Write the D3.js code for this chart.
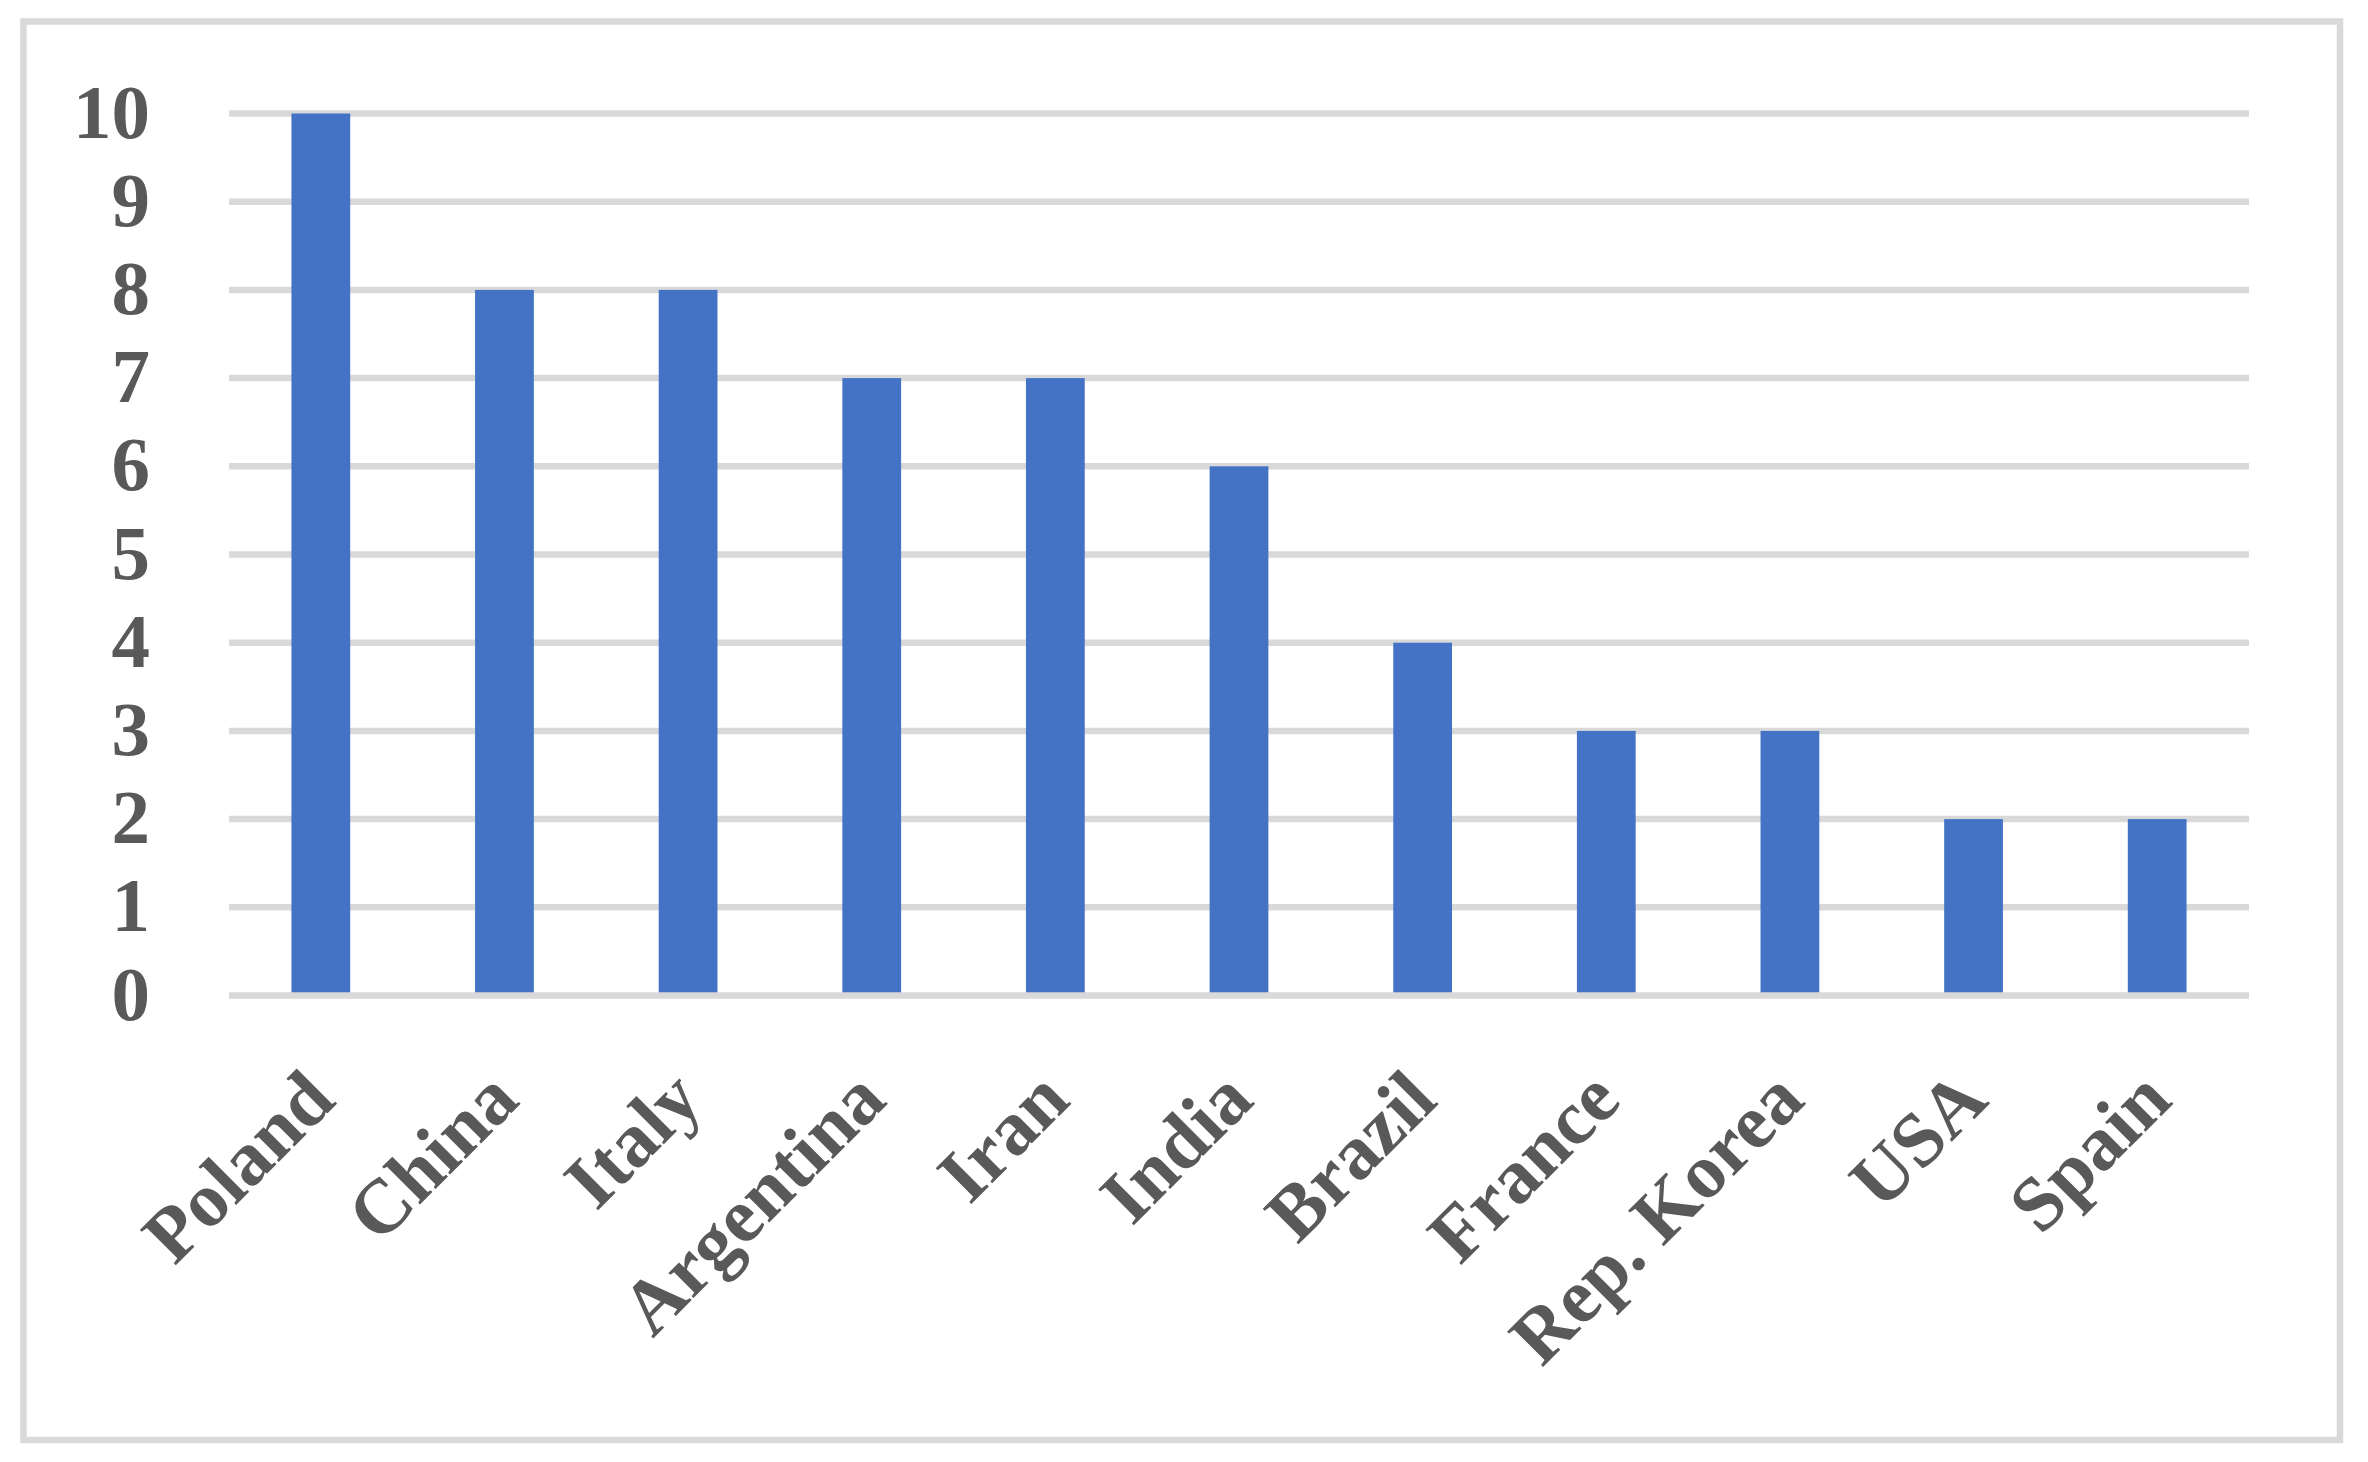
<!DOCTYPE html>
<html>
<head>
<meta charset="utf-8">
<script src="https://cdn.jsdelivr.net/npm/d3@7"></script>
<style>
  html, body { margin: 0; padding: 0; background: #fff; }
  svg { display: block; }
</style>
</head>
<body>
<div class="chart"></div>
<script>
var countries = ['Poland', 'China', 'Italy', 'Argentina', 'Iran', 'India', 'Brazil', 'France', 'Rep. Korea', 'USA', 'Spain'];
var counts = [10, 8, 8, 7, 7, 6, 4, 3, 3, 2, 2];
var yTicks = [0, 1, 2, 3, 4, 5, 6, 7, 8, 9, 10];

drawBarChart('.chart');

function drawBarChart(element) {
  // set the dimensions and margins of the graph
  var W = 2368, H = 1462;
  var PLOT = { left: 229, right: 2249, top: 113.5, bottom: 995.5 };
  var FONT = '"Palatino Linotype", "Book Antiqua", Palatino, "Liberation Serif", serif';
  var GRID = '#d9d9d9';
  var TEXT = '#595959';
  var BAR = '#4472c4';

  var data = countries.map(function (c, i) { return { name: c, value: counts[i] }; });

  // set the ranges
  var x = d3.scaleBand()
    .domain(countries)
    .range([PLOT.left, PLOT.right])
    .paddingInner(0.68)
    .paddingOuter(0.34);
  var y = d3.scaleLinear().domain([0, 10]).range([PLOT.bottom, PLOT.top]);

  var svg = d3.select(element)
    .append('svg')
      .attr('width', W)
      .attr('height', H);

  // chart border
  svg.append('rect')
    .attr('x', 23.5)
    .attr('y', 21.5)
    .attr('width', 2316.5)
    .attr('height', 1418.5)
    .attr('fill', '#fff')
    .attr('stroke', GRID)
    .attr('stroke-width', 6.5);

  // horizontal gridlines (zero line is drawn after the bars)
  svg.append('g')
    .selectAll('line')
    .data(yTicks.filter(function (t) { return t > 0; }))
    .enter().append('line')
      .attr('x1', PLOT.left)
      .attr('x2', PLOT.right)
      .attr('y1', function (d) { return y(d); })
      .attr('y2', function (d) { return y(d); })
      .attr('stroke', GRID)
      .attr('stroke-width', 6.5);

  // bars
  svg.append('g')
    .selectAll('rect')
    .data(data)
    .enter().append('rect')
      .attr('x', function (d) { return x(d.name); })
      .attr('y', function (d) { return y(d.value); })
      .attr('width', x.bandwidth())
      .attr('height', function (d) { return y(0) - y(d.value); })
      .attr('fill', BAR);

  // category axis line
  svg.append('line')
    .attr('x1', PLOT.left)
    .attr('x2', PLOT.right)
    .attr('y1', y(0))
    .attr('y2', y(0))
    .attr('stroke', GRID)
    .attr('stroke-width', 6.5);

  // Y axis labels
  svg.append('g')
    .selectAll('text')
    .data(yTicks)
    .enter().append('text')
      .attr('x', 150)
      .attr('y', function (d) { return y(d) + 24; })
      .attr('text-anchor', 'end')
      .attr('font-family', FONT)
      .attr('font-weight', 'bold')
      .attr('font-size', 77)
      .attr('fill', TEXT)
      .text(function (d) { return d; });

  // X axis labels, rotated 45 degrees
  svg.append('g')
    .selectAll('text')
    .data(countries)
    .enter().append('text')
      .attr('transform', function (d) {
        var cx = x(d) + x.bandwidth() / 2 + 17;
        return 'translate(' + cx + ',1103) rotate(-45)';
      })
      .attr('text-anchor', 'end')
      .attr('font-family', FONT)
      .attr('font-weight', 'bold')
      .attr('font-size', 77)
      .attr('fill', TEXT)
      .text(function (d) { return d; });
}
</script>
</body>
</html>
